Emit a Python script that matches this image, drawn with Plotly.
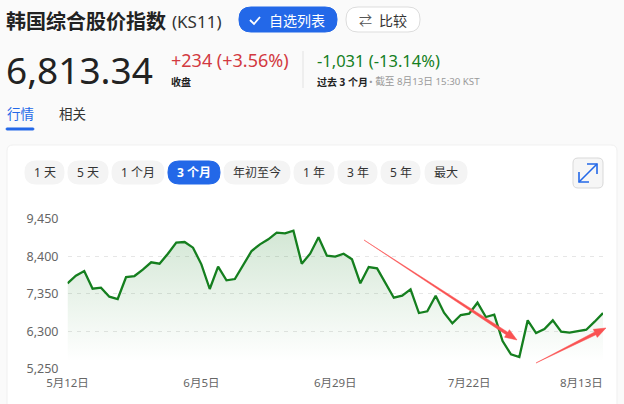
#!/usr/bin/env python3

import plotly.graph_objects as go

W = 624
H = 404
CJK = "Noto Sans, Noto Sans CJK SC, sans-serif"

BLUE = '#2368e8'
GREEN = '#157f1f'
RED = '#d2393f'
ARROW_RED = '#fa5252'

# one value per trading day
values = [
    7645, 7860, 7991, 7495, 7523, 7271, 7205, 7822, 7850, 8028,
    8234, 8197, 8477, 8786, 8805, 8646, 8178, 7486, 8112, 7729,
    7766, 8140, 8552, 8739, 8879, 9066, 9048, 9123, 8197, 8477,
    8936, 8421, 8393, 8477, 8318, 7645, 8103, 8066, 7654, 7242,
    7299, 7476, 6812, 6859, 7299, 6822, 6522, 6756, 6793, 7102,
    6700, 6765, 6026, 5652, 5577, 6606, 6251, 6363, 6606, 6288,
    6260, 6298, 6344, 6569, 6813,
]
days = list(range(len(values)))

x_tick_days = [0, 16, 32, 48]
x_tick_labels = ['5月12日', '6月5日', '6月29日', '7月22日']
last_label = '8月13日'

y_ticks = [5250, 6300, 7350, 8400, 9450]
y_tick_labels = ['5,250', '6,300', '7,350', '8,400', '9,450']

range_labels = ['1 天', '5 天', '1 个月', '3 个月', '年初至今', '1 年', '3 年', '5 年', '最大']
range_edges = [(25, 64), (68, 108), (112, 164), (168, 220), (224, 290),
               (294, 334), (338, 377), (381, 420), (425, 467)]
ACTIVE_RANGE = 3


def px(x):
    return x / W


def py(y):
    return 1 - y / H


def pt(x, y):
    return f'{px(x):.5f},{py(y):.5f}'


def rounded(x0, y0, x1, y1, r):
    return (f'M{pt(x0 + r, y0)} L{pt(x1 - r, y0)} Q{pt(x1, y0)} {pt(x1, y0 + r)} '
            f'L{pt(x1, y1 - r)} Q{pt(x1, y1)} {pt(x1 - r, y1)} '
            f'L{pt(x0 + r, y1)} Q{pt(x0, y1)} {pt(x0, y1 - r)} '
            f'L{pt(x0, y0 + r)} Q{pt(x0, y0)} {pt(x0 + r, y0)} Z')


shapes = []
annotations = []


def box(x0, y0, x1, y1, r, fill, line=None):
    shapes.append(dict(type='path', xref='paper', yref='paper', layer='below',
                       path=rounded(x0, y0, x1, y1, r), fillcolor=fill,
                       line=dict(color=line or fill, width=1)))


def stroke(points, color, width):
    path = 'M' + ' L'.join(pt(x, y) for x, y in points)
    shapes.append(dict(type='path', xref='paper', yref='paper', layer='above',
                       path=path, line=dict(color=color, width=width)))


def taper_arrow(x0, y0, x1, y1):
    # thin at the tail, wide at the head, like the hand drawn arrows
    dx, dy = x1 - x0, y1 - y0
    n = (dx * dx + dy * dy) ** 0.5
    ux, uy = dx / n, dy / n
    nx, ny = -uy, ux
    bx, by = x1 - ux * 12, y1 - uy * 12
    poly = [(x0, y0), (bx + nx * 1.5, by + ny * 1.5), (bx + nx * 4.5, by + ny * 4.5),
            (x1, y1), (bx - nx * 4.5, by - ny * 4.5), (bx - nx * 1.5, by - ny * 1.5)]
    shapes.append(dict(type='path', xref='paper', yref='paper', layer='above',
                       path='M' + ' L'.join(pt(x, y) for x, y in poly) + ' Z',
                       fillcolor=ARROW_RED, line=dict(color=ARROW_RED, width=0.5)))


def text(x, y, s, size, color='#222222', anchor='left', bold=False):
    annotations.append(dict(xref='paper', yref='paper', x=px(x), y=py(y), text=f'<b>{s}</b>' if bold else s,
                            showarrow=False, xanchor=anchor, yanchor='middle', borderpad=0,
                            font=dict(family=CJK, size=size, color=color)))


# card behind the chart
box(7, 145, 617, 420, 6, '#ffffff', '#f0f0f0')

# header
text(5, 21, '韩国综合股价指数', 20, '#222222', bold=True)
text(171, 21, '(KS11)', 17, '#333333')
box(239, 7, 337, 32, 12, BLUE)
stroke([(250, 20), (254, 24), (260, 17)], '#ffffff', 1.8)
text(268, 20, '自选列表', 14, '#ffffff')
box(346, 7, 420, 32, 12, '#ffffff', '#dddddd')
text(365, 20, '⇄', 13, '#555555', anchor='center')
text(378, 20, '比较', 14, '#333333')

text(5, 69, '6,813.34', 37, '#222222')
text(170, 60, '+234 (+3.56%)', 18, RED)
text(170, 82, '收盘', 10, '#222222', bold=True)
shapes.append(dict(type='line', xref='paper', yref='paper', layer='below',
                   x0=px(303), x1=px(303), y0=py(51), y1=py(88),
                   line=dict(color='#e2e2e2', width=1)))
text(316, 60, '-1,031 (-13.14%)', 16.5, GREEN)
text(316, 82, '过去 3 个月', 10, '#222222', bold=True)
text(368, 82, '• 截至 8月13日 15:30 KST', 9.7, '#999999')

text(5.5, 114.5, '行情', 13.5, BLUE)
box(6, 128, 34, 130, 1, BLUE)
text(58, 114.5, '相关', 13.5, '#333333')

# range buttons
for i, (label, (x0, x1)) in enumerate(zip(range_labels, range_edges)):
    active = i == ACTIVE_RANGE
    box(x0, 161, x1, 184, 11, BLUE if active else '#f4f4f4')
    text((x0 + x1) / 2, 172.5, label, 12, '#ffffff' if active else '#333333', anchor='center', bold=active)

# expand button
box(573, 158, 603, 188, 5, '#f6f6f6', '#d9d9d9')
stroke([(579, 182), (597, 164)], BLUE, 1.6)
stroke([(587, 164), (597, 164), (597, 174)], BLUE, 1.6)
stroke([(579, 172), (579, 182), (589, 182)], BLUE, 1.6)

# hand drawn arrows on top of the line
taper_arrow(364, 240, 517, 340)
taper_arrow(536, 363, 606, 328)

# last tick sits right aligned on the final day
annotations.append(dict(xref='x', yref='paper', x=days[-1], y=py(382), text=last_label, showarrow=False,
                        xanchor='right', yanchor='middle', borderpad=0, xshift=1,
                        font=dict(family=CJK, size=11.5, color='#666666')))

fig = go.Figure()

fig.add_trace(
    go.Scatter(
        x=days,
        y=values,
        mode='lines',
        line={"color": GREEN, "width": 2.3},
        fill='tozeroy',
        fillgradient=dict(type='vertical', start=5450, stop=9150,
                          colorscale=[[0, 'rgba(21,127,31,0)'], [1, 'rgba(21,127,31,0.19)']]),
        cliponaxis=False,
        hoverinfo='skip',
    )
)

fig.update_layout(
    width=W,
    height=H,
    autosize=False,
    margin=dict(l=0, r=0, t=0, b=0, pad=0),
    paper_bgcolor='#fafafa',
    plot_bgcolor='rgba(0,0,0,0)',
    showlegend=False,
    shapes=shapes,
    annotations=annotations,
    font=dict(family=CJK, size=11.5, color='#666666'),
    xaxis=dict(domain=[px(67.5), px(603)], range=[days[0], days[-1]], showgrid=False, zeroline=False,
               showline=False, tickmode='array', tickvals=x_tick_days, ticktext=x_tick_labels,
               ticks='', ticklabelstandoff=6, tickangle=0, automargin=False),
    yaxis=dict(domain=[py(368.7), py(219)], range=[y_ticks[0], y_ticks[-1]], showgrid=True, gridcolor='#e6e6e6',
               griddash='4px,5px', gridwidth=1, zeroline=False, showline=False, tickmode='array',
               tickvals=y_ticks, ticktext=y_tick_labels, ticks='', ticklabelstandoff=8, automargin=False,
               tickfont=dict(family=CJK, size=12.5, color='#666666')),
)

# the page's default body margin would push the figure 8px in
fig.write_html("out.html", config={"displayModeBar": False},
               post_script="document.body.style.margin='0';document.body.style.overflow='hidden';")
